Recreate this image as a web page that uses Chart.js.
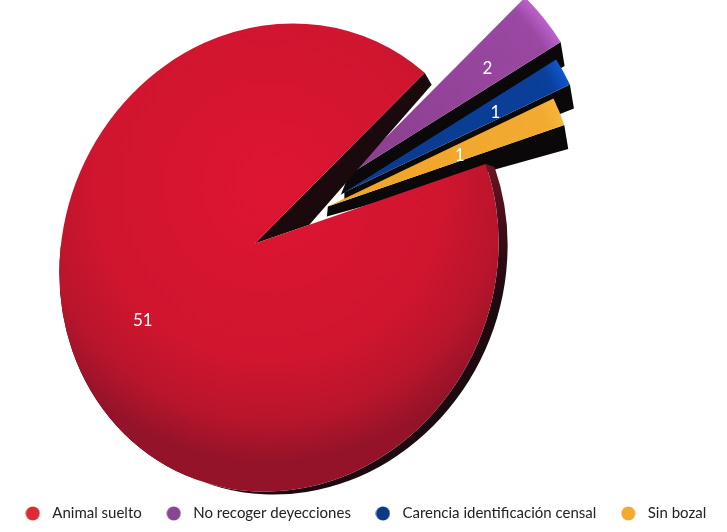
<!DOCTYPE html>
<html>
<head>
<meta charset="utf-8">
<style>
  html, body { margin: 0; background: #fff; }
  #wrap { width: 727px; height: 532px; }
</style>
</head>
<body>
<div id="wrap"><canvas id="pie" width="727" height="532"></canvas></div>
<script src="https://cdn.jsdelivr.net/npm/chart.js@4/dist/chart.umd.min.js"></script>
<script>
const categories = ['Animal suelto', 'No recoger deyecciones', 'Carencia identificación censal', 'Sin bozal'];
const values = [51, 2, 1, 1];
const legendColors = ['#dc2a36', '#8b4596', '#0a3a84', '#f2aa30'];
const sliceOffsets = [0, 115, 102, 82];

// face colours per slice: inner, outer, rim highlight
const faceStops = [null, ['#8a3f8e', '#9a48a2', '#bb62cc'], ['#0a3a8c', '#0a3f9a', '#1255d0'], ['#f0a428', '#f2aa30', '#f6b63c']];
// small correction of the explode direction, the reference is in perspective
const sliceNudge = [[0, 0], [4, 3], [0, -2], [-3, -6]];
// where the black wall starts, relative to each slice apex
const wallStart = [null, [-8, 20], [0, 7], [-1, 10]];
// how far along the radius each value label sits
const labelAt = [0.53, 0.71, 0.69, 0.57];
const labelNudge = [[0, 7], [0, 5], [0, 3], [0, 3]];
const wallColor = '#0a0808';

// the red face is not round around its apex: tilted ellipse, relative to the pie radius
const rim = { dx: 24, dy: 14, a: 0.948, b: 0.866, tilt: -67.5 * Math.PI / 180, shiftX: 9, shiftY: 3 };

function rayParam(x0, y0, ang, cx, cy, a, b, phi) {
  // where a ray from the apex hits the ellipse, as canvas ellipse angle
  const c = Math.cos(phi), s = Math.sin(phi);
  const qx = ((x0 - cx) * c + (y0 - cy) * s) / a, qy = (-(x0 - cx) * s + (y0 - cy) * c) / b;
  const dx = (Math.cos(ang) * c + Math.sin(ang) * s) / a, dy = (-Math.cos(ang) * s + Math.sin(ang) * c) / b;
  const A = dx * dx + dy * dy, B = 2 * (qx * dx + qy * dy), C = qx * qx + qy * qy - 1;
  const k = (-B + Math.sqrt(B * B - 4 * A * C)) / (2 * A);
  const px = qx + k * dx, py = qy + k * dy;
  return { t: Math.atan2(py, px), x: x0 + k * Math.cos(ang), y: y0 + k * Math.sin(ang) };
}

function drawMainSlice(ctx, arc) {
  const r = arc.outerRadius;
  const cx = arc.x + rim.dx, cy = arc.y + rim.dy, a = r * rim.a, b = r * rim.b;
  const from = rayParam(arc.x, arc.y, arc.startAngle, cx, cy, a, b, rim.tilt);
  const to = rayParam(arc.x, arc.y, arc.endAngle, cx, cy, a, b, rim.tilt);

  // dark side of the disc
  const side = ctx.createLinearGradient(0, from.y, 0, from.y + 140);
  side.addColorStop(0, '#6b1522');
  side.addColorStop(0.5, '#3a0e16');
  side.addColorStop(1, '#1c0a0f');
  ctx.beginPath();
  ctx.ellipse(cx, cy, a, b, rim.tilt, from.t, from.t + 3.6);
  ctx.ellipse(cx + rim.shiftX, cy + rim.shiftY, a, b, rim.tilt, from.t + 3.6, from.t, true);
  ctx.closePath();
  ctx.fillStyle = side;
  ctx.fill();

  // inner wall along the upper cut
  ctx.beginPath();
  ctx.moveTo(arc.x, arc.y);
  ctx.lineTo(to.x, to.y);
  ctx.lineTo(to.x + 7, to.y + 12);
  const inner = r * 0.23;
  ctx.lineTo(arc.x + Math.cos(arc.startAngle) * inner, arc.y + Math.sin(arc.startAngle) * inner);
  ctx.closePath();
  ctx.fillStyle = '#1a0a0e';
  ctx.fill();

  // top face
  const g = ctx.createRadialGradient(cx - 10, cy - 70, 10, cx - 10, cy - 70, r * 1.1);
  g.addColorStop(0, '#dd1532');
  g.addColorStop(0.62, '#d0152f');
  g.addColorStop(0.84, '#b8152c');
  g.addColorStop(1, '#941328');
  ctx.beginPath();
  ctx.moveTo(arc.x, arc.y);
  ctx.ellipse(cx, cy, a, b, rim.tilt, from.t, to.t);
  ctx.closePath();
  ctx.fillStyle = g;
  ctx.fill();
}

function sliceApex(arc, i) {
  const mid = (arc.startAngle + arc.endAngle) / 2, off = arc.options.offset;
  return { x: arc.x + Math.cos(mid) * off + sliceNudge[i][0], y: arc.y + Math.sin(mid) * off + sliceNudge[i][1] };
}

function drawExplodedSlice(ctx, arc, i) {
  const stops = faceStops[i], r = arc.outerRadius;
  const { x, y } = sliceApex(arc, i);
  const ex = x + Math.cos(arc.endAngle) * r, ey = y + Math.sin(arc.endAngle) * r;
  const sx = x + Math.cos(arc.startAngle) * r, sy = y + Math.sin(arc.startAngle) * r;

  // black wall under the lower cut
  ctx.beginPath();
  ctx.moveTo(x + wallStart[i][0], y + wallStart[i][1]);
  ctx.lineTo(ex + 4, ey + 24);
  ctx.lineTo(ex, ey);
  ctx.lineTo(x, y);
  ctx.closePath();
  ctx.fillStyle = wallColor;
  ctx.fill();

  const g = ctx.createRadialGradient(x, y, 0, x, y, r);
  g.addColorStop(0, stops[0]);
  g.addColorStop(0.93, stops[1]);
  g.addColorStop(1, stops[2]);
  ctx.beginPath();
  ctx.moveTo(x, y);
  ctx.lineTo(sx, sy);
  ctx.arc(x, y, r, arc.startAngle, arc.endAngle);
  ctx.closePath();
  ctx.fillStyle = g;
  ctx.fill();
}

const slicePlugin = {
  id: 'slicePlugin',
  afterLayout(chart) {
    // pie sits left of the middle, the legend stays centred on the page
    chart.chartArea.right = 510;
    chart.chartArea.width = 510;
    chart.legend.top -= 1;
    chart.legend.bottom -= 1;
  },
  beforeDatasetDraw(chart, args) {
    const ctx = chart.ctx, arcs = args.meta.data;
    ctx.save();
    for (let i = 1; i < arcs.length; i++) drawExplodedSlice(ctx, arcs[i], i);
    drawMainSlice(ctx, arcs[0]);
    ctx.fillStyle = '#fff';
    ctx.font = '17px Lato';
    ctx.textAlign = 'center';
    ctx.textBaseline = 'middle';
    arcs.forEach((arc, i) => {
      const mid = (arc.startAngle + arc.endAngle) / 2;
      const d = arc.outerRadius * labelAt[i];
      const base = i ? sliceApex(arc, i) : arc;
      ctx.fillText(String(values[i]), base.x + Math.cos(mid) * d + labelNudge[i][0], base.y + Math.sin(mid) * d + labelNudge[i][1]);
    });
    ctx.restore();
    return false;
  }
};

function dot(color) {
  const c = document.createElement('canvas');
  c.width = c.height = 15;
  const x = c.getContext('2d');
  x.fillStyle = color;
  x.beginPath();
  x.arc(7.5, 7.5, 7, 0, Math.PI * 2);
  x.fill();
  return c;
}

new Chart(document.getElementById('pie'), {
  type: 'pie',
  data: {
    labels: categories,
    datasets: [{ data: values, backgroundColor: legendColors, offset: sliceOffsets, borderWidth: 0 }]
  },
  options: {
    responsive: false,
    animation: false,
    rotation: 71,
    radius: 250,
    plugins: {
      tooltip: { enabled: false },
      legend: {
        position: 'bottom',
        labels: {
          usePointStyle: true,
          pointStyleWidth: 24,
          boxHeight: 14,
          padding: 20,
          color: '#222',
          font: { family: 'Lato', size: 15 },
          generateLabels: () => categories.map((text, i) => ({
            text, pointStyle: dot(legendColors[i]), fontColor: '#222', index: i, lineWidth: 0
          }))
        }
      }
    }
  },
  plugins: [slicePlugin]
});
</script>
</body>
</html>
